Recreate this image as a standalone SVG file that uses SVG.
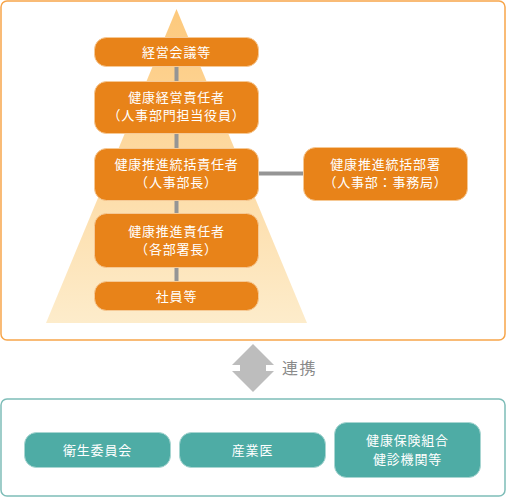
<svg xmlns="http://www.w3.org/2000/svg" width="506" height="497" viewBox="0 0 506 497">
<defs>
<linearGradient id="pyr" x1="0" y1="0" x2="0" y2="1">
<stop offset="0" stop-color="#fdc97c"/>
<stop offset="1" stop-color="#fdeccb"/>
</linearGradient>
<style>
.frame-o{fill:#fff;stroke:#f7a54a;stroke-width:1.5}
.frame-t{fill:#fff;stroke:#7ebdb8;stroke-width:1.5}
.on{fill:#e88319;stroke:#f6c995;stroke-width:1}
.tn{fill:#4eaca5;stroke:#a9d6d2;stroke-width:1}
.lb{font-family:"Noto Sans CJK JP","Noto Sans",sans-serif;font-size:13px;fill:#fff;text-anchor:middle;letter-spacing:0.8px}
.ln{stroke:#959595;stroke-width:4;fill:none}
.rel{font-family:"Noto Sans CJK JP","Noto Sans",sans-serif;font-size:16px;fill:#8a8a8a;letter-spacing:1.5px}
</style>
</defs>
<rect class="frame-o" x="1" y="1" width="504" height="339" rx="6"/>
<polygon points="176.5,9 307,323 46,323" fill="url(#pyr)"/>
<rect class="frame-t" x="1" y="399" width="504" height="97" rx="6"/>
<g id="connectors">
<line class="ln" x1="176.5" y1="66" x2="176.5" y2="81"/>
<line class="ln" x1="176.5" y1="133" x2="176.5" y2="148"/>
<line class="ln" x1="176.5" y1="200" x2="176.5" y2="213"/>
<line class="ln" x1="176.5" y1="267" x2="176.5" y2="281"/>
<line class="ln" x1="259" y1="173.5" x2="303" y2="173.5"/>
<polygon points="253,344 274,365 266,365 266,371 274,371 253,392 232,371 240,371 240,365 232,365" fill="#bdbdbd"/>
<text class="rel" x="282" y="374">連携</text>
</g>
<g id="n1"><rect class="on" x="94.5" y="37.5" width="164" height="29" rx="12"/><text class="lb" x="176.5" y="56.5">経営会議等</text></g>
<g id="n2"><rect class="on" x="94.5" y="81.5" width="164" height="52" rx="12"/><text class="lb" x="176.5" y="102">健康経営責任者</text><text class="lb" x="176.5" y="120">（人事部門担当役員）</text></g>
<g id="n3"><rect class="on" x="94.5" y="148.5" width="164" height="52" rx="12"/><text class="lb" x="176.5" y="169">健康推進統括責任者</text><text class="lb" x="176.5" y="187">（人事部長）</text></g>
<g id="n4"><rect class="on" x="94.5" y="213.5" width="164" height="54" rx="12"/><text class="lb" x="176.5" y="236">健康推進責任者</text><text class="lb" x="176.5" y="254">（各部署長）</text></g>
<g id="n5"><rect class="on" x="94.5" y="281.5" width="164" height="29" rx="12"/><text class="lb" x="176.5" y="300.5">社員等</text></g>
<g id="n6"><rect class="on" x="303.5" y="147.5" width="164" height="53" rx="12"/><text class="lb" x="385.5" y="168.5">健康推進統括部署</text><text class="lb" x="385.5" y="186.5">（人事部：事務局）</text></g>
<g id="t1"><rect class="tn" x="24.5" y="432.5" width="146" height="35" rx="12"/><text class="lb" x="97.5" y="454.5">衛生委員会</text></g>
<g id="t2"><rect class="tn" x="179.5" y="432.5" width="146" height="35" rx="12"/><text class="lb" x="252.5" y="454.5">産業医</text></g>
<g id="t3"><rect class="tn" x="334.5" y="422.5" width="146" height="55" rx="12"/><text class="lb" x="407.5" y="445">健康保険組合</text><text class="lb" x="407.5" y="463.5">健診機関等</text></g>
</svg>
